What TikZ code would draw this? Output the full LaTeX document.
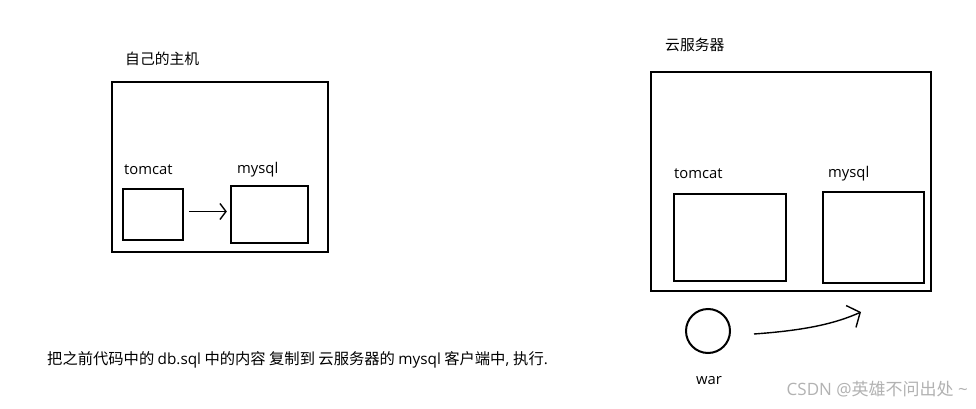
\documentclass[tikz,border=0pt]{standalone}
\usepackage{fontspec}
\setmainfont{Noto Sans CJK SC}
\newfontfamily\lat{Open Sans}
\usetikzlibrary{arrows.meta}
\begin{document}
\begin{tikzpicture}[x=1pt,y=-1pt,
  box/.style={draw=black, line width=2.3pt, rectangle, inner sep=0pt},
  lbl/.style={anchor=west, inner sep=0pt, font=\fontsize{14.8}{16}\selectfont},
  hand/.style={draw=black, line width=1.4pt}]
\useasboundingbox[fill=white] (0,0) rectangle (976,409);
% left host
\node[lbl] (t1title) at (125,59) {自己的主机};
\node[box, minimum width=216pt, minimum height=170pt] (host) at (220,167) {};
\node[lbl] (t1lbl) at (124,170) {\lat tomcat};
\node[lbl] (m1lbl) at (237,170) {\lat mysql};
\node[box, minimum width=60pt, minimum height=51pt] (t1) at (153,214.5) {};
\node[box, minimum width=77pt, minimum height=57pt] (m1) at (269.5,214.5) {};
\draw[hand, -{Straight Barb[length=6pt,width=16pt]}, shorten <=5pt, shorten >=3pt]
  ([yshift=3pt]t1.east) -- ([yshift=3pt]m1.west);
% right cloud server
\node[lbl] (t2title) at (665,45) {云服务器};
\node[box, minimum width=280pt, minimum height=219pt] (cloud) at (791,181.5) {};
\node[lbl] (t2lbl) at (674,174) {\lat tomcat};
\node[lbl] (m2lbl) at (828,174) {\lat mysql};
\node[box, minimum width=112pt, minimum height=87pt] (t2) at (730,237.5) {};
\node[box, minimum width=101pt, minimum height=91pt] (m2) at (873.5,237.5) {};
% war
\node[draw=black, line width=2pt, circle, minimum size=44pt, inner sep=0pt] (war) at (708,331) {};
\node[lbl, anchor=center] (warlbl) at (709,381) {\lat war};
\coordinate (a1) at (754,334);
\coordinate (a2) at (861,312);
\draw[hand, -{Straight Barb[length=10pt,width=24pt]}]
  (a1) .. controls (795,331) and (830,326) .. (a2);
% bottom text
\node[lbl, font=\fontsize{15.3}{17}\selectfont] (note) at (47,360) {把之前代码中的 {\lat db.sql} 中的内容 复制到 云服务器的 {\lat mysql} 客户端中{\lat , }执行{\lat .}};
% watermark
\node[lbl, anchor=east, text=black!30, font=\fontsize{17}{19}\selectfont] (wm) at (968,389) {{\lat CSDN @}英雄不问出处{\lat\ \string~}};
\end{tikzpicture}
\end{document}
